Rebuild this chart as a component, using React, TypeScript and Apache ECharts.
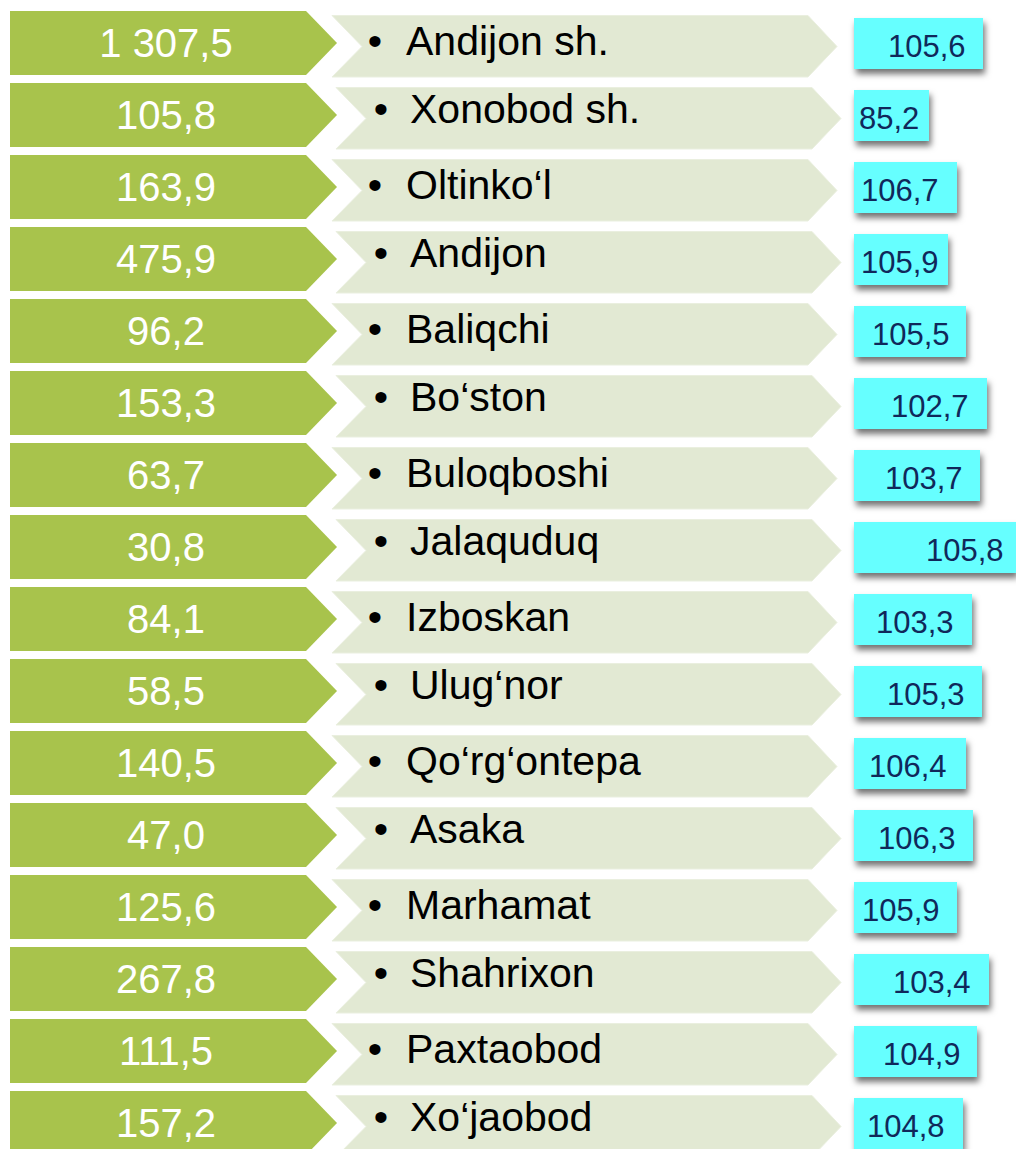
import React, { useEffect, useRef } from "react";
import * as echarts from "echarts";

// ---- data ----
const districts = [
  "Andijon sh.", "Xonobod sh.", "Oltinko‘l", "Andijon", "Baliqchi", "Bo‘ston",
  "Buloqboshi", "Jalaquduq", "Izboskan", "Ulug‘nor", "Qo‘rg‘ontepa", "Asaka",
  "Marhamat", "Shahrixon", "Paxtaobod", "Xo‘jaobod",
];
const volumes = [
  1307.5, 105.8, 163.9, 475.9, 96.2, 153.3, 63.7, 30.8, 84.1, 58.5, 140.5, 47.0,
  125.6, 267.8, 111.5, 157.2,
];
const growth = [
  105.6, 85.2, 106.7, 105.9, 105.5, 102.7, 103.7, 105.8, 103.3, 105.3, 106.4,
  106.3, 105.9, 103.4, 104.9, 104.8,
];

// ---- layout (pixel positions of the drawn badges, not data) ----
const badgeRight = [983, 929, 957, 948, 966, 987, 980, 1016, 972, 982, 966, 973, 957, 989, 977, 963];
const badgeTextLeft = [888, 859, 861, 861, 872, 891, 885, 926, 876, 887, 869, 878, 862, 893, 883, 867];

const FONT = '"Liberation Sans", Arial, sans-serif';

function fmt(v: number): string {
  const s = v.toFixed(1);
  const [intPart, dec] = s.split(".");
  const withSpaces = intPart.replace(/\B(?=(\d{3})+(?!\d))/g, " ");
  return withSpaces + "," + dec;
}

export default function App() {
  const ref = useRef<HTMLDivElement>(null);

  useEffect(() => {
    if (!ref.current) return;
    const chart = echarts.init(ref.current, undefined, { renderer: "svg" });

    const renderItem = (params: any, api: any) => {
      const i = api.value(1) as number;
      const px = (x: number) => api.coord([x, i])[0];
      const cy = api.coord([0, i])[1];
      const s = i % 2 ? 4 : 0;

      const gt = cy - 32.5, gb = cy + 31.5, gm = cy - 0.5;
      const lt = cy - 28, lb = cy + 33.5, lm = cy + 3;

      const bL = px(854), bR = px(badgeRight[i]);

      return {
        type: "group",
        children: [
          {
            type: "polygon",
            shape: {
              points: [
                [px(10), gt], [px(306), gt], [px(337), gm], [px(306), gb], [px(10), gb],
              ],
            },
            style: { fill: "#a8c34c" },
          },
          {
            type: "text",
            style: {
              text: fmt(volumes[i]),
              x: px(166),
              y: cy - 1,
              fill: "#ffffff",
              fontSize: 40,
              fontFamily: FONT,
              align: "center",
              verticalAlign: "middle",
            },
          },
          {
            type: "polygon",
            shape: {
              points: [
                [px(332 + s), lt], [px(808 + s), lt], [px(837 + s), lm],
                [px(808 + s), lb], [px(332 + s), lb], [px(362 + s), lm],
              ],
            },
            style: { fill: "#e2e9d3", stroke: "#eaefdf", lineWidth: 1 },
          },
          {
            type: "text",
            style: {
              text: "•",
              x: px(375 + s + (s ? 2 : 0)),
              y: cy - 3 - s,
              fill: "#000000",
              fontSize: 41,
              fontFamily: FONT,
              align: "center",
              verticalAlign: "middle",
            },
          },
          {
            type: "text",
            style: {
              text: districts[i],
              x: px(406 + s),
              y: cy - 3 - s,
              fill: "#000000",
              fontSize: 41,
              fontFamily: FONT,
              align: "left",
              verticalAlign: "middle",
            },
          },
          {
            type: "rect",
            shape: { x: bL, y: cy - 25.5, width: bR - bL, height: 51 },
            style: {
              fill: "#66ffff",
              shadowBlur: 6,
              shadowColor: "rgba(0,0,0,0.55)",
              shadowOffsetX: 2,
              shadowOffsetY: 5,
            },
          },
          {
            type: "text",
            style: {
              text: fmt(growth[i]),
              x: px(badgeTextLeft[i]),
              y: cy + 3,
              fill: "#10285a",
              fontSize: 31,
              fontFamily: FONT,
              align: "left",
              verticalAlign: "middle",
            },
          },
        ],
      };
    };

    chart.setOption({
      animation: false,
      backgroundColor: "#ffffff",
      grid: { left: 0, right: 0, top: 7.5, height: 1152, containLabel: false },
      xAxis: { type: "value", min: 0, max: 1016, show: false },
      yAxis: { type: "category", data: districts, inverse: true, show: false },
      series: [
        {
          type: "custom",
          renderItem,
          clip: false,
          data: districts.map((_, i) => [0, i]),
          encode: { x: 0, y: 1 },
        },
      ],
    });

    return () => chart.dispose();
  }, []);

  return (
    <div
      style={{
        position: "absolute",
        left: 0,
        top: 0,
        width: 1016,
        height: 1149,
        overflow: "hidden",
        background: "#ffffff",
      }}
    >
      <div ref={ref} style={{ width: 1016, height: 1180 }} />
    </div>
  );
}
